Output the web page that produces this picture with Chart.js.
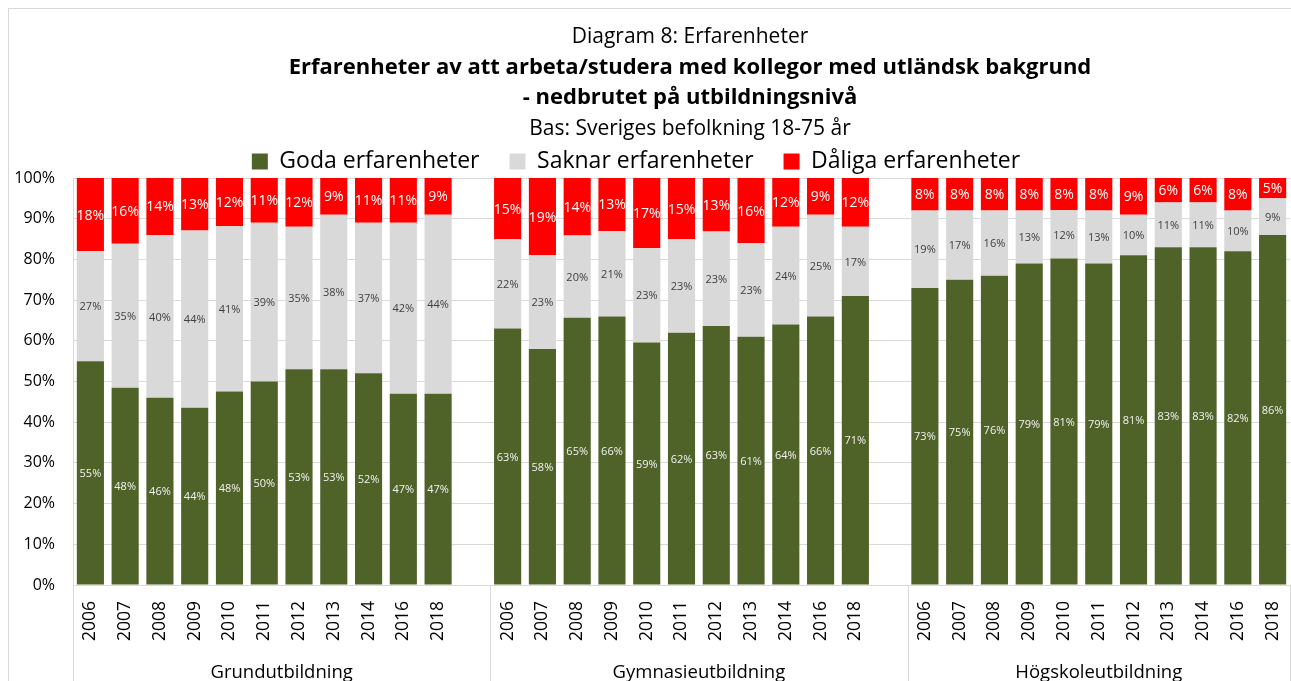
<!DOCTYPE html>
<html>
<head>
<meta charset="utf-8">
<script src="https://cdn.jsdelivr.net/npm/chart.js@4.4.1/dist/chart.umd.min.js"></script>
<style>
  html, body { margin: 0; padding: 0; background: #fff; }
  #wrap { width: 1291px; height: 681px; position: relative; }
</style>
</head>
<body>
<div id="wrap"><canvas id="chart"></canvas></div>
<script>
const years = ['2006', '2007', '2008', '2009', '2010', '2011', '2012', '2013', '2014', '2016', '2018']
const groups = ['Grundutbildning', 'Gymnasieutbildning', 'Högskoleutbildning']

// procent per utbildningsnivå, samma ordning som years
const goda_grund = [55, 48, 46, 44, 48, 50, 53, 53, 52, 47, 47]
const saknar_grund = [27, 35, 40, 44, 41, 39, 35, 38, 37, 42, 44]
const daliga_grund = [18, 16, 14, 13, 12, 11, 12, 9, 11, 11, 9]

const goda_gymn = [63, 58, 65, 66, 59, 62, 63, 61, 64, 66, 71]
const saknar_gymn = [22, 23, 20, 21, 23, 23, 23, 23, 24, 25, 17]
const daliga_gymn = [15, 19, 14, 13, 17, 15, 13, 16, 12, 9, 12]

const goda_hogsk = [73, 75, 76, 79, 81, 79, 81, 83, 83, 82, 86]
const saknar_hogsk = [19, 17, 16, 13, 12, 13, 10, 11, 11, 10, 9]
const daliga_hogsk = [8, 8, 8, 8, 8, 8, 9, 6, 6, 8, 5]

// en tom kategori efter grupp 1 och 2, som i Excel
const join = (a, b, c) => [...a, null, ...b, null, ...c]
const labels = join(years, years, years)
const goda = join(goda_grund, goda_gymn, goda_hogsk)
const saknar = join(saknar_grund, saknar_gymn, saknar_hogsk)
const daliga = join(daliga_grund, daliga_gymn, daliga_hogsk)
labels[11] = ''
labels[23] = ''

// 100 % staplad: varje stapel skalas till summan 100
const totals = goda.map((v, i) => v === null ? null : v + saknar[i] + daliga[i])
const pct = arr => arr.map((v, i) => v === null ? null : v / totals[i] * 100)

const FONT = '"Open Sans", sans-serif'

const frame = {
  id: 'frame',
  afterInit(chart) {
    // lägre legendruta så att diagramytan börjar på rätt höjd
    const lg = chart.legend
    if (lg) {
      const fit = lg.fit.bind(lg)
      lg.fit = function () { fit(); this.height = 58 }
    }
  },
  afterLayout(chart) {
    // legenden sitter lite till vänster om mitten i originalet
    const lg = chart.legend
    if (lg) { lg.left -= 15; lg.right -= 15 }
  },
  beforeDraw(chart) {
    const c = chart.ctx
    c.save()
    c.fillStyle = '#fff'
    c.fillRect(0, 0, chart.width, chart.height)
    c.strokeStyle = '#d9d9d9'
    c.lineWidth = 1
    c.strokeRect(8.5, 8.5, 2000, 2000)
    c.restore()
  },
  afterDraw(chart) {
    const c = chart.ctx
    c.save()
    c.textAlign = 'center'
    c.textBaseline = 'middle'
    c.fillStyle = '#000'
    const cx = 690
    c.font = '21px ' + FONT
    c.fillText('Diagram 8: Erfarenheter', cx, 37)
    c.font = 'bold 22px ' + FONT
    c.fillText('Erfarenheter av att arbeta/studera med kollegor med utländsk bakgrund', cx, 68)
    c.fillText('- nedbrutet på utbildningsnivå', cx, 98)
    c.font = '21px ' + FONT
    c.fillText('Bas: Sveriges befolkning 18-75 år', cx, 129)

    // gruppaxel under årtalen
    const xs = chart.scales.x
    const slot = (xs.right - xs.left) / labels.length
    const bounds = [xs.left, xs.left + 12 * slot, xs.left + 24 * slot, xs.right]
    const top = xs.top
    c.strokeStyle = '#d9d9d9'
    c.lineWidth = 1
    bounds.forEach(b => {
      c.beginPath()
      c.moveTo(Math.round(b) + 0.5, top)
      c.lineTo(Math.round(b) + 0.5, chart.height)
      c.stroke()
    })
    c.font = '18.5px ' + FONT
    c.fillStyle = '#000'
    groups.forEach((g, i) => {
      c.fillText(g, (bounds[i] + bounds[i + 1]) / 2, 673)
    })
    c.restore()
  }
}

const barLabels = {
  id: 'barLabels',
  afterDatasetsDraw(chart) {
    const c = chart.ctx
    c.save()
    c.textAlign = 'center'
    c.textBaseline = 'middle'
    chart.data.datasets.forEach((ds, i) => {
      const meta = chart.getDatasetMeta(i)
      meta.data.forEach((el, j) => {
        const v = ds.raw[j]
        if (v === null) return
        c.fillStyle = ds.labelColor
        c.font = ds.labelSize + 'px ' + FONT
        c.fillText(v + '%', el.x, (el.y + el.base) / 2 + 1)
      })
    })
    c.restore()
  }
}

new Chart(document.getElementById('chart'), {
  type: 'bar',
  data: {
    labels: labels,
    datasets: [
      {
        label: 'Goda erfarenheter',
        data: pct(goda),
        raw: goda,
        backgroundColor: '#4f6228',
        labelColor: '#f2f2f2',
        labelSize: 11
      },
      {
        label: 'Saknar erfarenheter',
        data: pct(saknar),
        raw: saknar,
        backgroundColor: '#d9d9d9',
        labelColor: '#404040',
        labelSize: 11
      },
      {
        label: 'Dåliga erfarenheter',
        data: pct(daliga),
        raw: daliga,
        backgroundColor: '#ff0000',
        labelColor: '#ffffff',
        labelSize: 14
      }
    ]
  },
  options: {
    responsive: true,
    maintainAspectRatio: false,
    animation: false,
    layout: { padding: { top: 120, left: 12, right: 1, bottom: 0 } },
    datasets: {
      bar: { categoryPercentage: 1, barPercentage: 0.78 }
    },
    plugins: {
      legend: {
        position: 'top',
        labels: {
          font: { family: FONT, size: 23 },
          color: '#000',
          boxWidth: 16,
          boxHeight: 16,
          padding: 30
        }
      },
      tooltip: { enabled: false }
    },
    scales: {
      x: {
        stacked: true,
        grid: { display: false, drawTicks: false },
        border: { display: true, color: '#d9d9d9' },
        ticks: {
          autoSkip: false,
          maxRotation: 90,
          minRotation: 90,
          padding: 16,
          color: '#000',
          font: { family: FONT, size: 17.5 }
        },
        afterFit(scale) {
          scale.height = 96
          scale.paddingLeft = 0
          scale.paddingRight = 0
        }
      },
      y: {
        stacked: true,
        min: 0,
        max: 100,
        grid: { color: '#d9d9d9', drawTicks: false },
        border: { display: true, color: '#d9d9d9' },
        ticks: {
          stepSize: 10,
          padding: 18,
          color: '#000',
          font: { family: FONT, size: 16 },
          callback: v => v + '%'
        },
        afterFit(scale) { scale.width = 61 }
      }
    }
  },
  plugins: [frame, barLabels]
})
</script>
</body>
</html>
